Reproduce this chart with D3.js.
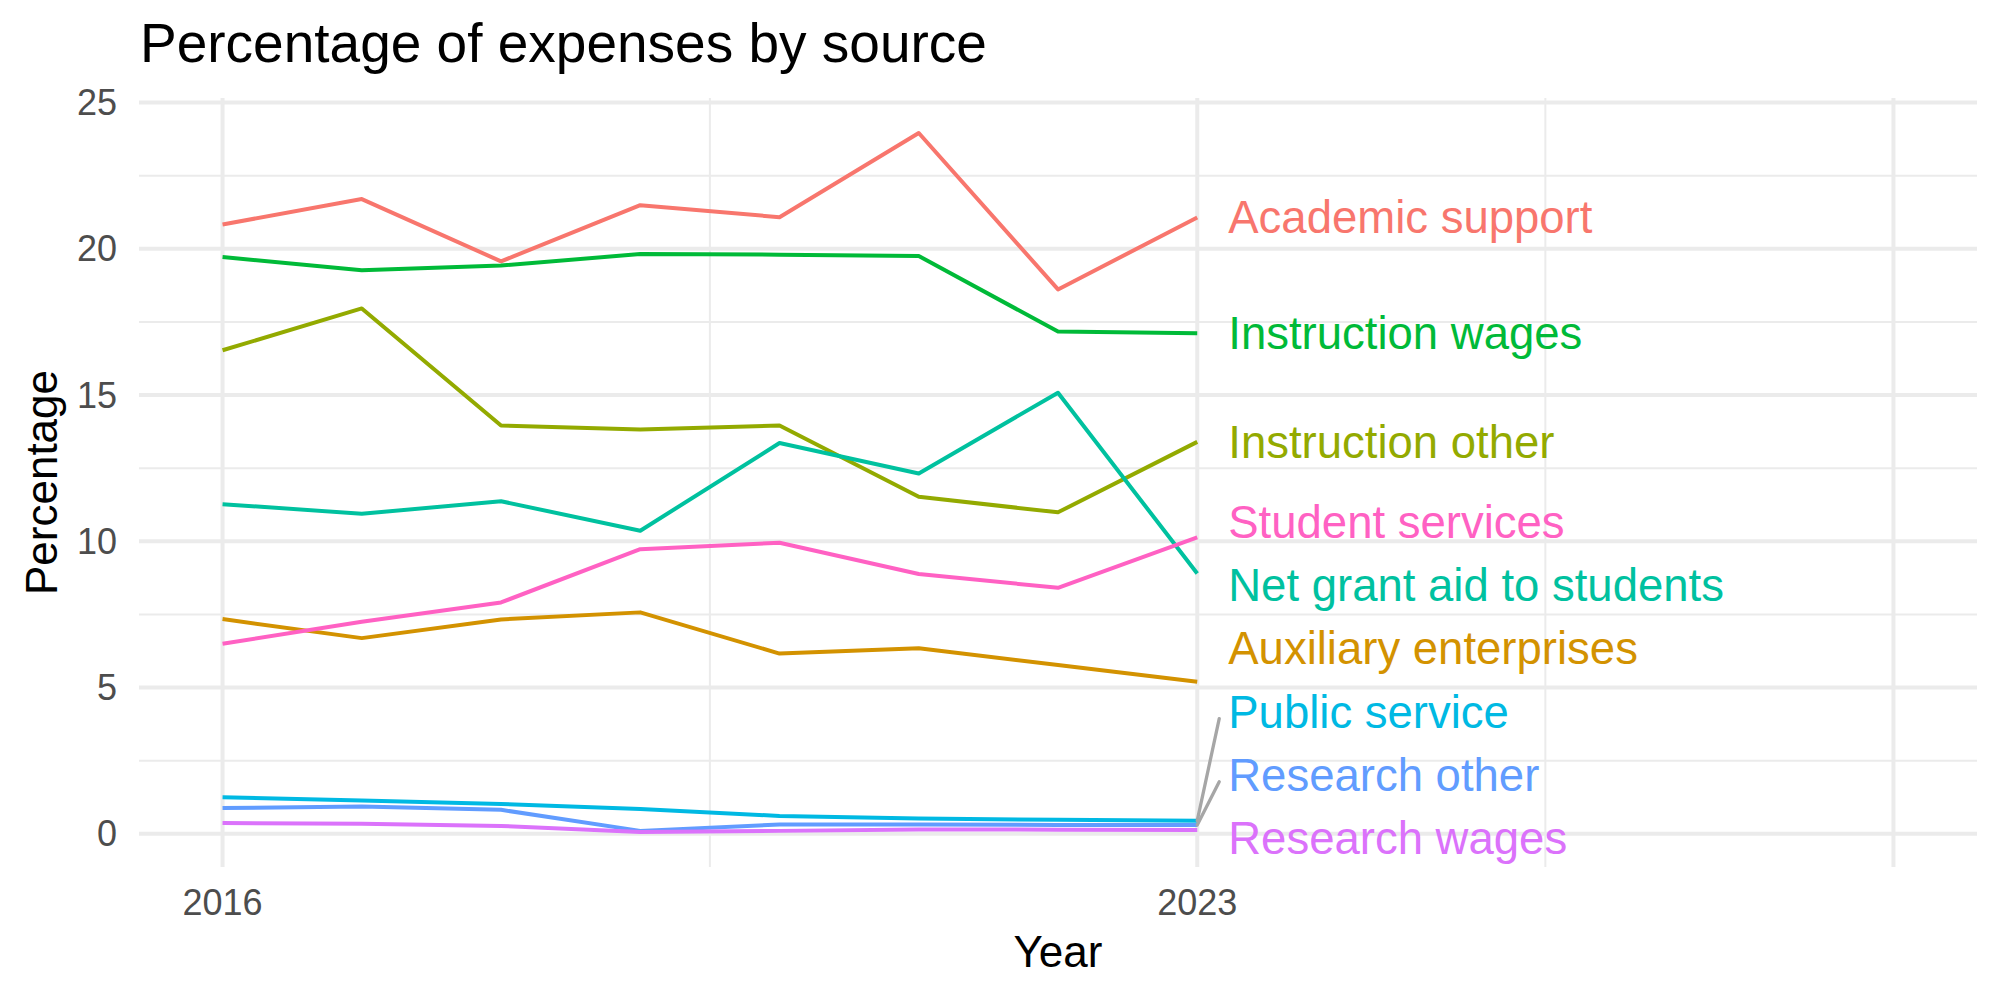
<!DOCTYPE html>
<html>
<head>
<meta charset="utf-8">
<script src="https://cdn.jsdelivr.net/npm/d3@7"></script>
<style>
  body { margin: 0; background: #fff; }
  text { font-family: "Liberation Sans", Arial, Helvetica, sans-serif; }
</style>
</head>
<body>
<div id="chart"></div>
<script>
const width = 2000;
const height = 1000;

// data
const years = [2016, 2017, 2018, 2019, 2020, 2021, 2022, 2023];
const categories = ['Academic support', 'Auxiliary enterprises', 'Instruction other', 'Instruction wages',
  'Net grant aid to students', 'Public service', 'Research other', 'Research wages', 'Student services'];
const academicSupport = [20.83, 21.70, 19.57, 21.49, 21.08, 23.96, 18.61, 21.07];
const auxiliaryEnterprises = [7.34, 6.69, 7.33, 7.57, 6.16, 6.34, 5.77, 5.20];
const instructionOther = [16.53, 17.96, 13.96, 13.82, 13.96, 11.52, 10.99, 13.40];
const instructionWages = [19.72, 19.27, 19.43, 19.82, 19.80, 19.75, 17.17, 17.11];
const netGrantAid = [11.27, 10.94, 11.37, 10.36, 13.36, 12.32, 15.08, 8.90];
const publicService = [1.25, 1.14, 1.02, 0.85, 0.61, 0.52, 0.48, 0.45];
const researchOther = [0.88, 0.93, 0.82, 0.10, 0.32, 0.32, 0.30, 0.30];
const researchWages = [0.37, 0.34, 0.27, 0.06, 0.10, 0.15, 0.14, 0.13];
const studentServices = [6.50, 7.25, 7.91, 9.73, 9.95, 8.88, 8.41, 10.13];

const yTicks = [0, 5, 10, 15, 20, 25];
const yMinor = [2.5, 7.5, 12.5, 17.5, 22.5];
const xMajor = [2016, 2023, 2028];
const xMinor = [2019.5, 2025.5];
const xLabels = ['2016', '2023', ''];
const xLimits = [2016, 2028];

const colors = ['#F8766D', '#D39200', '#93AA00', '#00BA38', '#00C19F', '#00B9E3', '#619CFF', '#DB72FB', '#FF61C3'];

const seriesValues = [academicSupport, auxiliaryEnterprises, instructionOther, instructionWages,
  netGrantAid, publicService, researchOther, researchWages, studentServices];
const series = categories.map((c, i) => ({
  name: c,
  color: colors[i],
  values: years.map((y, j) => ({year: y, value: seriesValues[i][j]}))
}));

const panel = {left: 139, right: 1977, top: 98, bottom: 867};

const xPad = (xLimits[1] - xLimits[0]) * 0.05;
const x = d3.scaleLinear().domain([xLimits[0] - xPad, xLimits[1] + xPad]).range([panel.left, panel.right]);
const ext = d3.extent(seriesValues.flat());
const yPad = (ext[1] - ext[0]) * 0.05;
const y = d3.scaleLinear().domain([ext[0] - yPad, ext[1] + yPad]).range([panel.bottom, panel.top]);

const svg = d3.select("#chart")
  .append("svg")
  .attr("width", width)
  .attr("height", height);

// grid
const grid = svg.append("g");
grid.selectAll(".ymin").data(yMinor).enter().append("line")
  .attr("x1", panel.left).attr("x2", panel.right)
  .attr("y1", d => y(d)).attr("y2", d => y(d))
  .attr("stroke", "#EBEBEB").attr("stroke-width", 2);
grid.selectAll(".xmin").data(xMinor).enter().append("line")
  .attr("x1", d => x(d)).attr("x2", d => x(d))
  .attr("y1", panel.top).attr("y2", panel.bottom)
  .attr("stroke", "#EBEBEB").attr("stroke-width", 2);
grid.selectAll(".ymaj").data(yTicks).enter().append("line")
  .attr("x1", panel.left).attr("x2", panel.right)
  .attr("y1", d => y(d)).attr("y2", d => y(d))
  .attr("stroke", "#EBEBEB").attr("stroke-width", 4);
grid.selectAll(".xmaj").data(xMajor).enter().append("line")
  .attr("x1", d => x(d)).attr("x2", d => x(d))
  .attr("y1", panel.top).attr("y2", panel.bottom)
  .attr("stroke", "#EBEBEB").attr("stroke-width", 4);

// axes text
svg.append("g").selectAll("text").data(yTicks).enter().append("text")
  .attr("x", 117).attr("y", d => y(d)).attr("dy", "0.35em")
  .attr("text-anchor", "end").attr("fill", "#4D4D4D").attr("font-size", 36)
  .text(d => d);
svg.append("g").selectAll("text").data(xMajor).enter().append("text")
  .attr("x", d => x(d)).attr("y", 915)
  .attr("text-anchor", "middle").attr("fill", "#4D4D4D").attr("font-size", 36)
  .text((d, i) => xLabels[i]);

svg.append("text").attr("x", (panel.left + panel.right) / 2).attr("y", 967)
  .attr("text-anchor", "middle").attr("font-size", 44).attr("fill", "#000").text("Year");
svg.append("text")
  .attr("transform", `translate(57,${(panel.top + panel.bottom) / 2}) rotate(-90)`)
  .attr("text-anchor", "middle").attr("font-size", 44).attr("fill", "#000").text("Percentage");
svg.append("text").attr("x", 140).attr("y", 62)
  .attr("font-size", 55).attr("fill", "#000").text("Percentage of expenses by source");

// lines
const line = d3.line().x(d => x(d.year)).y(d => y(d.value));
svg.append("g").selectAll("path").data(series).enter().append("path")
  .attr("d", d => line(d.values))
  .attr("fill", "none")
  .attr("stroke", d => d.color)
  .attr("stroke-width", 4)
  .attr("stroke-linejoin", "round");

// end labels, pushed apart like ggrepel
const gap = 63.2;
const lo = panel.top + 29, hi = panel.bottom - 29;
const labels = series.map(s => {
  const last = s.values[s.values.length - 1];
  return {name: s.name, color: s.color, py: y(last.value), px: x(last.year)};
}).sort((a, b) => a.py - b.py);

let clusters = labels.map(l => ({items: [l]}));
const place = c => {
  const mean = d3.mean(c.items, d => d.py);
  let top = mean - (c.items.length - 1) * gap / 2;
  top = Math.max(lo, Math.min(top, hi - (c.items.length - 1) * gap));
  c.items.forEach((d, i) => d.ly = top + i * gap);
};
clusters.forEach(place);
let merged = true;
while (merged) {
  merged = false;
  for (let i = 0; i < clusters.length - 1; i++) {
    const a = clusters[i], b = clusters[i + 1];
    if (a.items[a.items.length - 1].ly + gap > b.items[0].ly) {
      const c = {items: a.items.concat(b.items)};
      place(c);
      clusters.splice(i, 2, c);
      merged = true;
      break;
    }
  }
}

const labelX = x(2023) + 31;
svg.append("g").selectAll("line").data(labels.filter(d => Math.abs(d.ly - d.py) > 40)).enter().append("line")
  .attr("x1", d => d.px).attr("y1", d => d.py)
  .attr("x2", labelX - 9).attr("y2", d => d.ly + 7)
  .attr("stroke", "#A6A6A6").attr("stroke-width", 3.3)
  .attr("stroke-linecap", "round");

svg.append("g").selectAll("text").data(labels).enter().append("text")
  .attr("x", labelX).attr("y", d => d.ly).attr("dy", "0.35em")
  .attr("font-size", 45.5).attr("fill", d => d.color)
  .text(d => d.name);
</script>
</body>
</html>
